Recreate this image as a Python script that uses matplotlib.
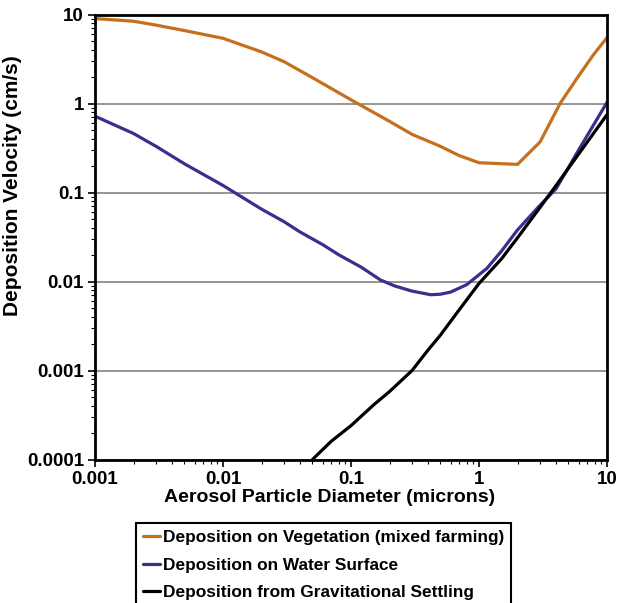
import numpy as np
import matplotlib.pyplot as plt
from matplotlib.ticker import FixedLocator, LogLocator, NullFormatter, FuncFormatter

plt.rcParams['font.family'] = ['Liberation Sans', 'DejaVu Sans']
plt.rcParams['font.weight'] = 'bold'

# particle diameter (microns) and deposition velocity (cm/s) for each curve
veg_d = [0.001, 0.002, 0.003, 0.005, 0.01, 0.02, 0.03, 0.05, 0.1, 0.2, 0.3,
         0.5, 0.7, 1.0, 2.0, 3.0, 4.3, 5.8, 7.8, 10.0]
veg_v = [9.0, 8.4, 7.6, 6.6, 5.4, 3.8, 2.95, 1.95, 1.1, 0.63, 0.45,
         0.33, 0.26, 0.216, 0.207, 0.37, 1.0, 1.9, 3.5, 5.5]

water_d = [0.001, 0.002, 0.003, 0.005, 0.007, 0.01, 0.02, 0.03, 0.04, 0.06,
           0.08, 0.12, 0.17, 0.22, 0.3, 0.42, 0.5, 0.6, 0.8, 1.15, 1.5,
           2.0, 3.0, 4.0, 6.0, 10.0]
water_v = [0.72, 0.46, 0.33, 0.21, 0.16, 0.12, 0.065, 0.047, 0.036, 0.026,
           0.020, 0.0145, 0.0104, 0.0089, 0.0078, 0.0071, 0.0072, 0.0076, 0.0092, 0.014, 0.022,
           0.038, 0.072, 0.11, 0.30, 1.03]

grav_d = [0.05, 0.07, 0.1, 0.15, 0.2, 0.3, 0.4, 0.5, 0.7, 1.0, 1.5, 2.0, 3.0, 4.0, 6.0, 10.0]
grav_v = [0.0001, 0.00016, 0.00024, 0.00041, 0.00058, 0.001, 0.0017, 0.0025, 0.0048, 0.0095,
          0.018, 0.031, 0.068, 0.12, 0.27, 0.75]

labels = ['Deposition on Vegetation (mixed farming)',
          'Deposition on Water Surface',
          'Deposition from Gravitational Settling']
colors = ['#c5711b', '#3b2f8e', 'black']

fig = plt.figure(figsize=(6.27, 6.03), dpi=100)
ax = fig.add_axes([95 / 627, 1 - 459.5 / 603, 512 / 627, 445 / 603])

for d, v, lab, c in zip([veg_d, water_d, grav_d], [veg_v, water_v, grav_v], labels, colors):
    ax.plot(d, v, color=c, lw=2.3, label=lab, solid_capstyle='round')

ax.set_xscale('log')
ax.set_yscale('log')
ax.set_xlim(0.001, 10)
ax.set_ylim(0.0001, 10)

fmt = FuncFormatter(lambda v, p: f'{v:g}' if v >= 0.001 else f'{v:.4f}')
ax.xaxis.set_major_locator(FixedLocator([0.001, 0.01, 0.1, 1, 10]))
ax.yaxis.set_major_locator(FixedLocator([0.0001, 0.001, 0.01, 0.1, 1, 10]))
ax.xaxis.set_major_formatter(fmt)
ax.yaxis.set_major_formatter(fmt)
ax.xaxis.set_minor_locator(LogLocator(base=10, subs=np.arange(2, 10)))
ax.yaxis.set_minor_locator(LogLocator(base=10, subs=np.arange(2, 10)))
ax.xaxis.set_minor_formatter(NullFormatter())
ax.yaxis.set_minor_formatter(NullFormatter())
ax.tick_params(which='major', length=5, width=1.2, labelsize=13.5, pad=3)
ax.tick_params(which='minor', length=3, width=0.8)

ax.grid(axis='y', which='major', color='#8c8c8c', lw=1.3)
ax.set_axisbelow(True)
for s in ax.spines.values():
    s.set_linewidth(2)

ax.set_xlabel('Aerosol Particle Diameter (microns)', fontsize=14, fontweight='bold')
ax.set_ylabel('Deposition Velocity (cm/s)', fontsize=15, fontweight='bold')
ax.xaxis.set_label_coords(0.459, -0.066)
ax.yaxis.set_label_coords(-0.142, 0.616)

leg = fig.legend(loc='upper left', bbox_to_anchor=(136 / 627, 1 - 523 / 603),
                 handlelength=1.0, handletextpad=0.12,
                 borderpad=0.42, labelspacing=0.72, borderaxespad=0,
                 fancybox=False, framealpha=1, prop={'weight': 'bold', 'size': 12.4})
leg.get_frame().set_edgecolor('black')
leg.get_frame().set_linewidth(1.5)

plt.savefig('out.png', dpi=100)
